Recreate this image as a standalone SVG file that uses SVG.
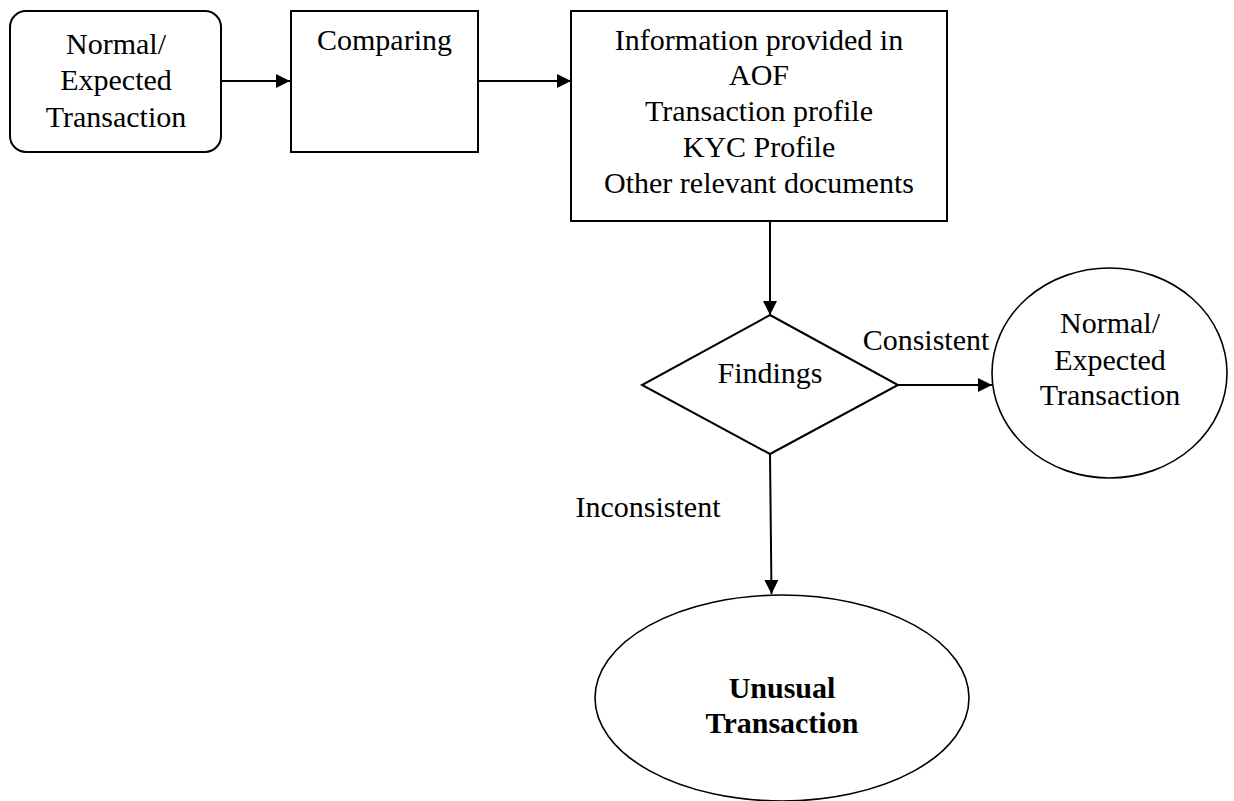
<svg xmlns="http://www.w3.org/2000/svg" width="1234" height="801" viewBox="0 0 1234 801">
<style>
.s{fill:#fff;stroke:#000;stroke-width:2}
.e{fill:#fff;stroke:#000;stroke-width:1.6}
.t{font-family:"Liberation Serif","Times New Roman",serif;font-size:30px;fill:#000;text-anchor:middle}
.b{font-weight:bold}
.c{stroke:#000;stroke-width:2;fill:none}
</style>
<defs>
<marker id="ah" viewBox="0 0 14 14" refX="14" refY="7" markerWidth="14" markerHeight="14" markerUnits="userSpaceOnUse" orient="auto">
<path d="M0,0 L14,7 L0,14 Z" fill="#000"/>
</marker>
</defs>
<rect width="1234" height="801" fill="#fff"/>
<g id="connectors">
<line class="c" x1="221" y1="81" x2="290" y2="81" marker-end="url(#ah)"/>
<line class="c" x1="478" y1="81" x2="571" y2="81" marker-end="url(#ah)"/>
<line class="c" x1="770" y1="221" x2="770" y2="315" marker-end="url(#ah)"/>
<line class="c" x1="898" y1="385" x2="992" y2="385" marker-end="url(#ah)"/>
<line class="c" x1="770" y1="454" x2="771.5" y2="594" marker-end="url(#ah)"/>
<text class="t" x="926" y="350">Consistent</text>
<text class="t" x="648" y="517">Inconsistent</text>
</g>
<g id="start">
<rect class="s" x="10" y="11" width="211" height="141" rx="16"/>
<text class="t" x="116" y="54">Normal/</text>
<text class="t" x="116" y="90">Expected</text>
<text class="t" x="116" y="127">Transaction</text>
</g>
<g id="comparing">
<rect class="s" x="291" y="11" width="187" height="141"/>
<text class="t" x="384.5" y="50">Comparing</text>
</g>
<g id="info">
<rect class="s" x="571" y="11" width="376" height="210"/>
<text class="t" x="759" y="50">Information provided in</text>
<text class="t" x="759" y="85">AOF</text>
<text class="t" x="759" y="121">Transaction profile</text>
<text class="t" x="759" y="157">KYC Profile</text>
<text class="t" x="759" y="193">Other relevant documents</text>
</g>
<g id="findings">
<polygon class="s" points="770,315 898,385 770,454 642,385"/>
<text class="t" x="770" y="383">Findings</text>
</g>
<g id="normal">
<ellipse class="e" cx="1109.5" cy="373" rx="117.5" ry="105"/>
<text class="t" x="1110" y="333">Normal/</text>
<text class="t" x="1110" y="370">Expected</text>
<text class="t" x="1110" y="405">Transaction</text>
</g>
<g id="unusual">
<ellipse class="e" cx="782" cy="698" rx="187" ry="103"/>
<text class="t b" x="782" y="698">Unusual</text>
<text class="t b" x="782" y="733">Transaction</text>
</g>
</svg>
